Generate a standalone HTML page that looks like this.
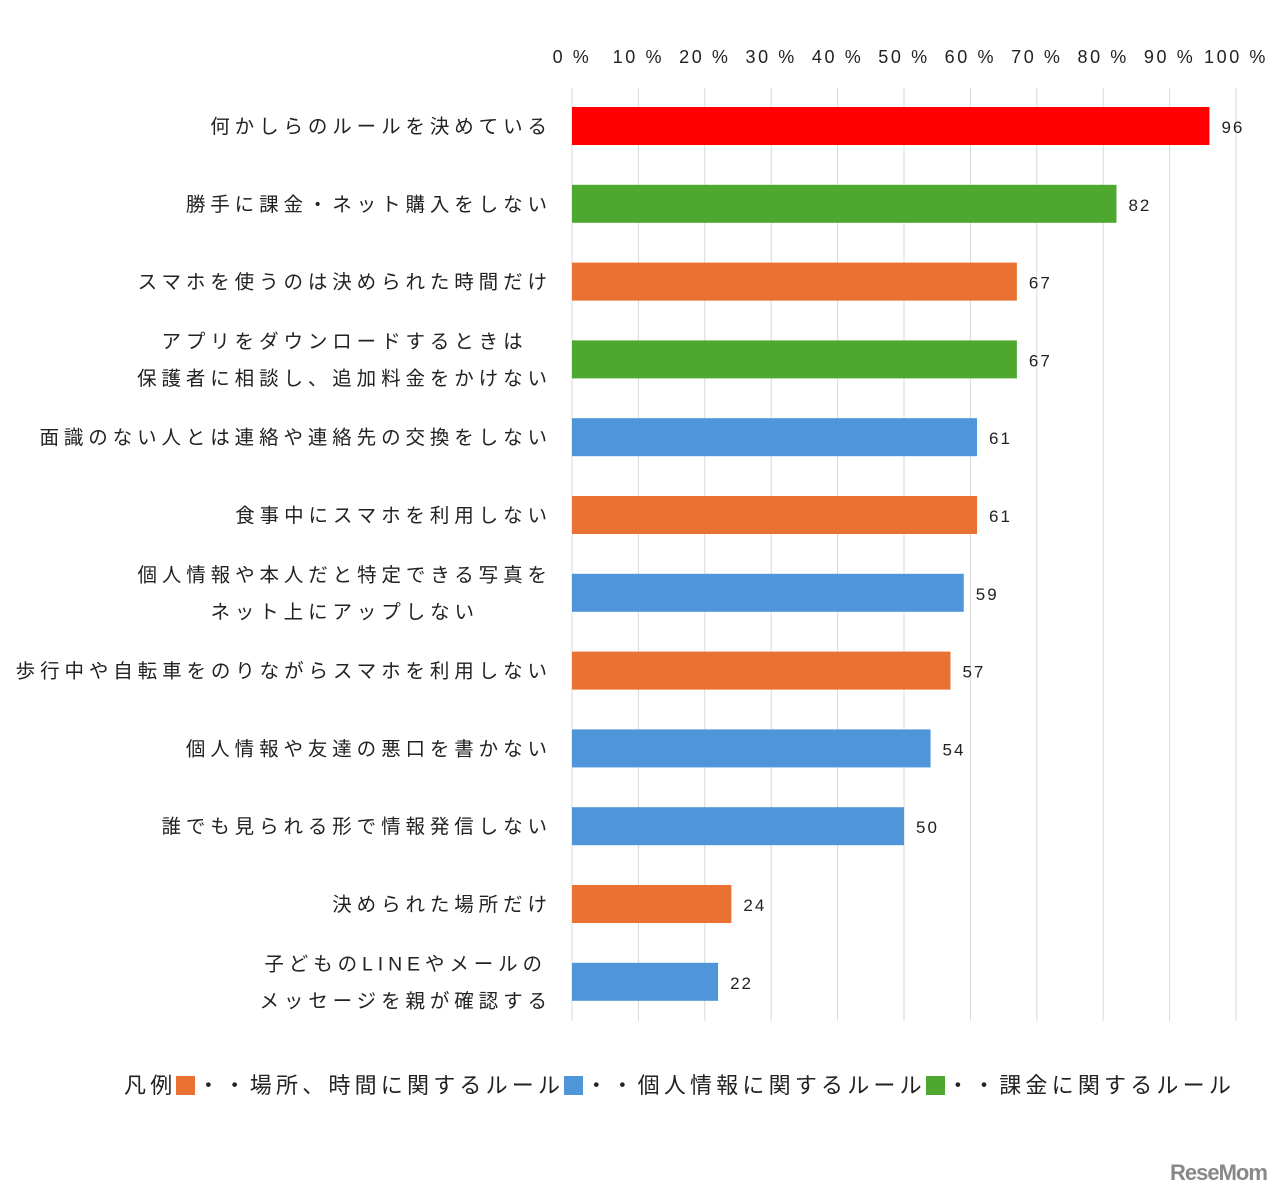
<!DOCTYPE html>
<html><head><meta charset="utf-8">
<style>
body{margin:0;background:#fff;width:1280px;height:1197px;overflow:hidden;font-family:"Liberation Sans","Noto Sans CJK JP",sans-serif;color:#222}
svg text{font-family:"Liberation Sans","Noto Sans CJK JP",sans-serif;fill:#222}
#legend{position:absolute;left:124px;top:1068px;font-size:22px;white-space:nowrap;font-family:"Noto Sans CJK JP",sans-serif;color:#222;letter-spacing:4.2px}
.sq{display:inline-block;width:19px;height:19px;vertical-align:-2px;margin-right:2px}
#wm{position:absolute;left:1170px;top:1160px;font-size:22px;font-weight:bold;color:#888;letter-spacing:-1px}
</style></head>
<body>
<svg id="chart" width="1280" height="1060" style="position:absolute;left:0;top:0"></svg>
<div id="legend">凡例<span class="sq" style="background:#E97132"></span>・・場所、時間に関するルール<span class="sq" style="background:#4E95D9"></span>・・個人情報に関するルール<span class="sq" style="background:#4EA72E"></span>・・課金に関するルール</div>
<div id="wm">ReseMom</div>
<script>
const categories=[
["何かしらのルールを決めている"],
["勝手に課金・ネット購入をしない"],
["スマホを使うのは決められた時間だけ"],
["アプリをダウンロードするときは","保護者に相談し、追加料金をかけない"],
["面識のない人とは連絡や連絡先の交換をしない"],
["食事中にスマホを利用しない"],
["個人情報や本人だと特定できる写真を","ネット上にアップしない"],
["歩行中や自転車をのりながらスマホを利用しない"],
["個人情報や友達の悪口を書かない"],
["誰でも見られる形で情報発信しない"],
["決められた場所だけ"],
["子どものLINEやメールの","メッセージを親が確認する"]];
const values=[96,82,67,67,61,61,59,57,54,50,24,22];
const groups=["all","billing","place","billing","info","place","info","place","info","info","place","info"];
const tickValues=[0,10,20,30,40,50,60,70,80,90,100];
const tickLabels=["0 %","10 %","20 %","30 %","40 %","50 %","60 %","70 %","80 %","90 %","100 %"];
const colors={all:"#FF0000",billing:"#4EA72E",place:"#E97132",info:"#4E95D9"};
const NS="http://www.w3.org/2000/svg";
const svg=document.getElementById('chart');
const x=v=>572+v*6.64;
const rowY=i=>126+i*77.8;
function mk(t,a){const e=document.createElementNS(NS,t);for(const k in a)e.setAttribute(k,a[k]);svg.appendChild(e);return e;}
tickValues.forEach((v,i)=>{
 const g=mk('line',{x1:x(v),x2:x(v),y1:88,y2:1021,stroke:'#d9d9d9','stroke-width':1});
 
 
 const t=mk('text',{x:x(v),y:63,'text-anchor':'middle','font-size':18,'letter-spacing':'2.6'});
 t.textContent=tickLabels[i];
 
 
});
values.forEach((v,i)=>{
 const cy=rowY(i);
 const r=mk('rect',{x:x(0),y:cy-19,width:x(v)-x(0),height:38,fill:colors[groups[i]]});
 
 
 const t=mk('text',{x:x(v)+12,y:cy+7,'font-size':17,'letter-spacing':'2'});
 t.textContent=String(v);
 
 
 const lines=categories[i];
 const els=lines.map((s,j)=>{
  const ty=lines.length===1?cy+7:cy+7+(j===0?-18.5:18.5);
  const e=mk('text',{x:0,y:ty,'font-size':19.5,'letter-spacing':'4.9'});
  e.textContent=s;
  
  
  return e;});
 const ws=els.map(e=>e.getComputedTextLength()-4.9);
 const mw=Math.max(...ws);
 const right=547;
 els.forEach((e,j)=>{e.setAttribute('x',right-mw+(mw-ws[j])/2);});
});
</script>
</body></html>
